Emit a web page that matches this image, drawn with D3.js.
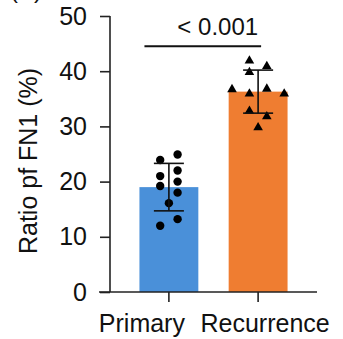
<!DOCTYPE html>
<html>
<head>
<meta charset="utf-8">
<script src="https://cdn.jsdelivr.net/npm/d3@7"></script>
<style>
  body { margin: 0; background: #fff; }
  text { font-family: "Liberation Sans", Arial, Helvetica, sans-serif; fill: #111; }
</style>
</head>
<body>
<div id="chart"></div>
<script>
var groups = ["Primary", "Recurrence"];
var means = [19.0, 36.3];
var sds = [4.3, 3.9];
var primaryPts = [23.9, 24.9, 21.0, 22.0, 19.2, 20.0, 18.0, 16.1, 12.0, 13.2];
var primaryCol = [-1, 1, -1, 1, -1, 1, 1, 0, -1, 1];
var recurPts = [41.9, 40.9, 39.8, 36.7, 35.9, 36.8, 35.9, 32.8, 31.8, 29.8];
var recurCol = [-1, 1, -1, -3, -1, 1, 3, -1, 1, 0];
var yTicks = [0, 10, 20, 30, 40, 50];
var pLabel = "< 0.001";

var width = 343, height = 339;
var colors = ["#4a90d9", "#ef7d31"];

var svg = d3.select("#chart")
  .append("svg")
    .attr("width", width)
    .attr("height", height);

var x = d3.scaleBand()
  .domain(groups)
  .range([110, 317])
  .paddingInner(0.34)
  .paddingOuter(0.33);

var y = d3.scaleLinear()
  .domain([0, 50])
  .range([292, 16]);

// panel letter, cut off at the top
svg.append("text")
  .attr("x", 10)
  .attr("y", -2)
  .style("font-size", "24px")
  .text("(A)");

// bars
svg.selectAll("rect.bar")
  .data(groups)
  .enter()
  .append("rect")
    .attr("class", "bar")
    .attr("x", function(d) { return x(d); })
    .attr("y", function(d, i) { return y(means[i]); })
    .attr("width", x.bandwidth())
    .attr("height", function(d, i) { return y(0) - y(means[i]); })
    .attr("fill", function(d, i) { return colors[i]; });

// points
var step = 8.7;
function cx(g) { return x(g) + x.bandwidth() / 2; }

svg.selectAll("circle.pt")
  .data(primaryPts)
  .enter()
  .append("circle")
    .attr("class", "pt")
    .attr("cx", function(d, i) { return cx("Primary") + primaryCol[i] * step; })
    .attr("cy", function(d) { return y(d); })
    .attr("r", 4.2)
    .attr("fill", "#000");

svg.selectAll("path.pt")
  .data(recurPts)
  .enter()
  .append("path")
    .attr("class", "pt")
    .attr("d", d3.symbol().type(d3.symbolTriangle).size(40))
    .attr("transform", function(d, i) {
      return "translate(" + (cx("Recurrence") + recurCol[i] * step) + "," + y(d) + ")";
    })
    .attr("fill", "#000");

// error bars
var capW = 15;
groups.forEach(function(g, i) {
  var c = cx(g), lo = y(means[i] - sds[i]), hi = y(means[i] + sds[i]);
  svg.append("line")
    .attr("x1", c).attr("x2", c).attr("y1", lo).attr("y2", hi)
    .attr("stroke", "#111").attr("stroke-width", 1.6);
  [lo, hi].forEach(function(yy) {
    svg.append("line")
      .attr("x1", c - capW).attr("x2", c + capW).attr("y1", yy).attr("y2", yy)
      .attr("stroke", "#111").attr("stroke-width", 1.6);
  });
});

// y axis
var yAxis = svg.append("g")
  .attr("transform", "translate(110,0)")
  .call(d3.axisLeft(y).tickValues(yTicks).tickSize(10).tickPadding(13));
yAxis.select(".domain").attr("d", "M0," + y(50) + "V" + y(0));

// x axis
var xAxis = svg.append("g")
  .attr("transform", "translate(0," + y(0) + ")")
  .call(d3.axisBottom(x).tickSize(10).tickPadding(12));
xAxis.select(".domain").attr("d", "M99,0H317");
// labels sit a bit spread apart from their ticks in the original
xAxis.selectAll(".tick text")
  .attr("dx", function(d) { return d == "Primary" ? -27 : 7; });

svg.selectAll(".tick text")
  .style("font-size", "25px")
  .attr("font-family", null);
svg.selectAll(".domain, .tick line")
  .attr("stroke", "#222")
  .attr("stroke-width", 1.6);

// y label
svg.append("text")
  .attr("transform", "translate(37,161) rotate(-90)")
  .attr("text-anchor", "middle")
  .style("font-size", "25px")
  .text("Ratio pf FN1 (%)");

// significance
var sigY = y(44.5);
svg.append("line")
  .attr("x1", x("Primary") + 5)
  .attr("x2", cx("Recurrence") + 3)
  .attr("y1", sigY).attr("y2", sigY)
  .attr("stroke", "#111").attr("stroke-width", 2);

svg.append("text")
  .attr("x", cx("Recurrence"))
  .attr("y", 35)
  .attr("text-anchor", "end")
  .style("font-size", "24px")
  .text(pLabel);
</script>
</body>
</html>
